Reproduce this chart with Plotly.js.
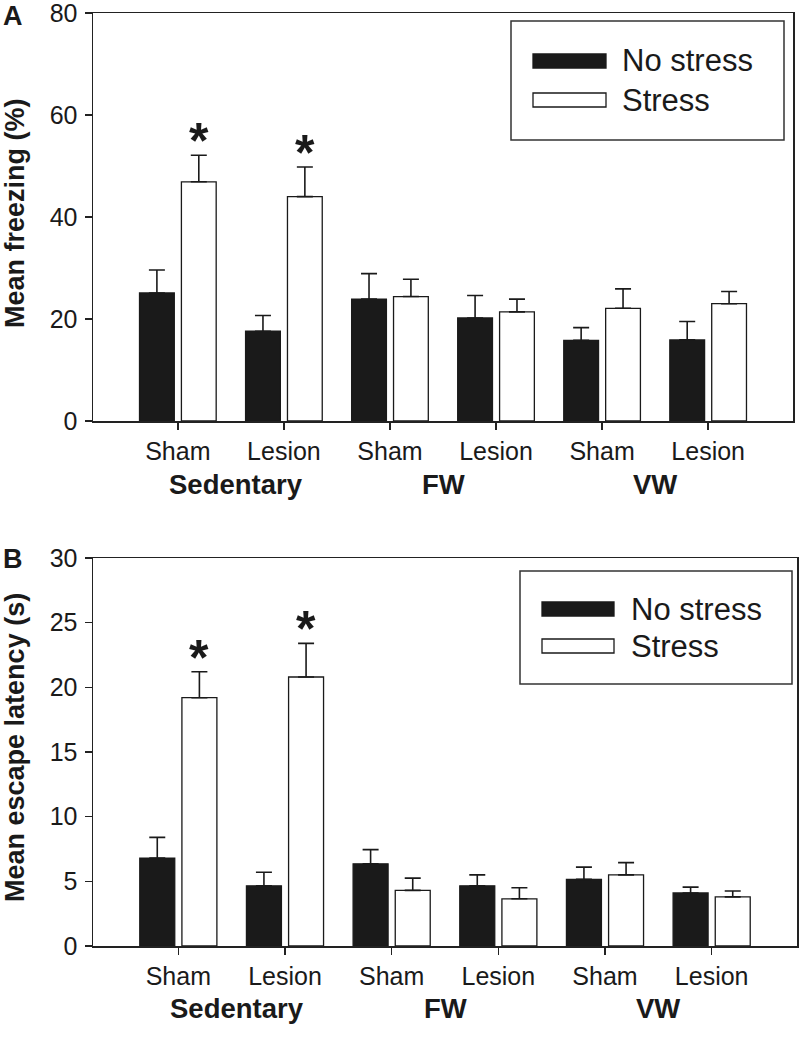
<!DOCTYPE html>
<html>
<head>
<meta charset="utf-8">
<script src="https://cdn.plot.ly/plotly-3.0.1.min.js"></script>
<style>
  body { margin: 0; background: #fff; }
  #chart { width: 799px; height: 1050px; }
</style>
</head>
<body>
<div id="chart"></div>
<script>
// groups along the x axis, two surgery conditions in each
var groups = ['Sedentary', 'FW', 'VW'];
var surgery = ['Sham', 'Lesion', 'Sham', 'Lesion', 'Sham', 'Lesion'];
var seriesNames = ['No stress', 'Stress'];

// panel A: mean freezing (%) and SEM
var freezeNoStress = [25.1, 17.6, 23.9, 20.2, 15.8, 15.9];
var freezeNoStressSem = [4.5, 3.1, 5.0, 4.4, 2.5, 3.6];
var freezeStress = [46.9, 44.0, 24.4, 21.4, 22.1, 23.0];
var freezeStressSem = [5.2, 5.8, 3.4, 2.5, 3.8, 2.4];

// panel B: mean escape latency (s) and SEM
var escapeNoStress = [6.8, 4.65, 6.35, 4.65, 5.15, 4.1];
var escapeNoStressSem = [1.6, 1.05, 1.1, 0.85, 0.95, 0.45];
var escapeStress = [19.2, 20.8, 4.3, 3.65, 5.5, 3.8];
var escapeStressSem = [2.0, 2.6, 0.95, 0.85, 0.95, 0.45];

// stress bars marked significant
var sigStar = [true, true, false, false, false, false];

var W = 799, H = 1050;
function px(x) { return x / W; }
function py(y) { return 1 - y / H; }

var FONT = 'Liberation Sans, Arial, sans-serif';
var INK = '#1a1a1a';
var xIdx = surgery.map(function (s, i) { return i; });

// bar offset inside a group (matches bargap / bargroupgap below)
var BARGAP = 0.21;
var slot = (1 - BARGAP) / 2;
// small nudge of group labels as in the original figure
var groupShift = [5, 0, 0];

function barTrace(name, y, sem, filled, xa, ya) {
  return {
    type: 'bar',
    name: name,
    x: xIdx,
    y: y,
    xaxis: xa,
    yaxis: ya,
    showlegend: false,
    marker: {
      color: filled ? INK : '#ffffff',
      line: { color: INK, width: 1.3 }
    },
    error_y: {
      type: 'data',
      symmetric: false,
      array: sem,
      arrayminus: sem.map(function () { return 0; }),
      color: INK,
      thickness: 1.6,
      width: 8
    }
  };
}

var data = [
  barTrace(seriesNames[0], freezeNoStress, freezeNoStressSem, true, 'x', 'y'),
  barTrace(seriesNames[1], freezeStress, freezeStressSem, false, 'x', 'y'),
  barTrace(seriesNames[0], escapeNoStress, escapeNoStressSem, true, 'x2', 'y2'),
  barTrace(seriesNames[1], escapeStress, escapeStressSem, false, 'x2', 'y2')
];

function xAxis(dom, anchor) {
  return {
    domain: dom,
    anchor: anchor,
    range: [-0.8, 5.8],
    tickvals: xIdx,
    ticktext: surgery,
    ticks: 'outside',
    ticklen: 7,
    tickwidth: 1.5,
    tickcolor: '#222',
    showline: true,
    mirror: true,
    linecolor: '#222',
    linewidth: 1.5,
    showgrid: false,
    zeroline: false,
    ticklabelstandoff: 0,
    ticklabeloverflow: 'allow',
    tickfont: { family: FONT, size: 25, color: INK },
    fixedrange: true
  };
}

function yAxis(dom, anchor, range, dtick) {
  return {
    domain: dom,
    anchor: anchor,
    range: range,
    dtick: dtick,
    ticks: 'outside',
    ticklen: 7,
    tickwidth: 1.5,
    tickcolor: '#222',
    showline: true,
    mirror: true,
    linecolor: '#222',
    linewidth: 1.5,
    showgrid: false,
    zeroline: false,
    ticklabelstandoff: 2,
    ticklabeloverflow: 'allow',
    tickfont: { family: FONT, size: 25, color: INK },
    fixedrange: true
  };
}

var annotations = [];
var shapes = [];

function panelDecor(xref, yref, letter, letterY, yTitle, yTop, yBottom, groupY,
                    stress, stressSem, legendBox) {
  // panel letter
  annotations.push({
    xref: 'paper', yref: 'paper', x: px(1), y: py(letterY),
    xanchor: 'left', yanchor: 'middle', showarrow: false,
    text: '<b>' + letter + '</b>',
    font: { family: FONT, size: 27, color: INK }
  });
  // y axis title
  annotations.push({
    xref: 'paper', yref: 'paper', x: px(15), y: py((yTop + yBottom) / 2 - 4),
    xanchor: 'center', yanchor: 'middle', textangle: -90, showarrow: false,
    text: '<b>' + yTitle + '</b>',
    font: { family: FONT, size: 27, color: INK }
  });
  // group labels under each pair of categories
  groups.forEach(function (g, k) {
    annotations.push({
      xref: xref, yref: 'paper', x: 2 * k + 0.5, y: py(groupY),
      xanchor: 'center', yanchor: 'middle', xshift: groupShift[k], showarrow: false,
      text: '<b>' + g + '</b>',
      font: { family: FONT, size: 27.5, color: INK }
    });
  });
  // significance stars over stress bars
  stress.forEach(function (v, i) {
    if (!sigStar[i]) return;
    annotations.push({
      xref: xref, yref: yref, x: i + slot / 2, y: v + stressSem[i],
      xanchor: 'center', yanchor: 'bottom', yshift: -16, showarrow: false,
      text: '<b>*</b>',
      font: { family: FONT, size: 50, color: INK }
    });
  });
  // legend box
  var b = legendBox;
  shapes.push({
    type: 'rect', xref: 'paper', yref: 'paper',
    x0: px(b.x0), x1: px(b.x1), y0: py(b.y1), y1: py(b.y0),
    line: { color: '#333', width: 1.5 }, fillcolor: 'rgba(0,0,0,0)'
  });
  seriesNames.forEach(function (name, k) {
    var cy = b.row0 + k * b.rowStep;
    shapes.push({
      type: 'rect', xref: 'paper', yref: 'paper',
      x0: px(b.sx0), x1: px(b.sx1), y0: py(cy + 7), y1: py(cy - 7),
      line: { color: INK, width: 1.3 },
      fillcolor: k === 0 ? INK : '#ffffff'
    });
    annotations.push({
      xref: 'paper', yref: 'paper', x: px(b.tx), y: py(cy),
      xanchor: 'left', yanchor: 'middle', showarrow: false,
      text: name,
      font: { family: FONT, size: 31, color: INK }
    });
  });
}

panelDecor('x', 'y', 'A', 16, 'Mean freezing (%)', 13, 421, 484,
  freezeStress, freezeStressSem,
  { x0: 511, x1: 784, y0: 21, y1: 140, sx0: 533, sx1: 606, tx: 620, row0: 61, rowStep: 39 });

panelDecor('x2', 'y2', 'B', 559, 'Mean escape latency (s)', 558, 946, 1008,
  escapeStress, escapeStressSem,
  { x0: 520, x1: 792, y0: 571, y1: 684, sx0: 542, sx1: 614, tx: 629, row0: 609, rowStep: 37 });

var layout = {
  width: W,
  height: H,
  margin: { l: 0, r: 0, t: 0, b: 0 },
  paper_bgcolor: '#ffffff',
  plot_bgcolor: '#ffffff',
  showlegend: false,
  barmode: 'group',
  bargap: BARGAP,
  bargroupgap: 0.17,
  font: { family: FONT, color: INK },
  xaxis: xAxis([px(93), px(793)], 'y'),
  yaxis: yAxis([py(421), py(13)], 'x', [0, 80], 20),
  xaxis2: xAxis([px(93), px(797)], 'y2'),
  yaxis2: yAxis([py(946), py(558)], 'x2', [0, 30], 5),
  annotations: annotations,
  shapes: shapes
};

Plotly.newPlot('chart', data, layout, { displayModeBar: false, staticPlot: true });
</script>
</body>
</html>
